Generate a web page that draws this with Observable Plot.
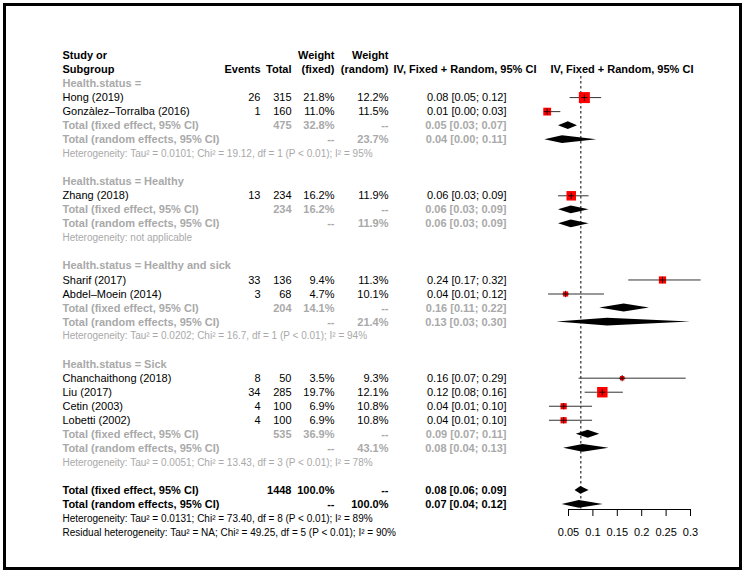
<!DOCTYPE html>
<html><head><meta charset="utf-8">
<script src="https://cdn.jsdelivr.net/npm/d3@7"></script>
<script src="https://cdn.jsdelivr.net/npm/@observablehq/plot@0.6"></script>
<style>
body{margin:0;background:#fff;}
#wrap{position:relative;width:747px;height:573px;background:#fff;}
#border{position:absolute;left:3px;top:3px;width:739px;height:567px;box-sizing:border-box;border:3px solid #000;pointer-events:none;}
</style></head><body>
<div id="wrap"><div id="chart"></div><div id="border"></div></div>
<script>
// ---- data ----
const groupNames = ["", "Healthy", "Healthy and sick", "Sick"];
const studies = ["Hong (2019)", "Gonzàlez–Torralba (2016)", "Zhang (2018)", "Sharif (2017)", "Abdel–Moein (2014)", "Chanchaithong (2018)", "Liu (2017)", "Cetin (2003)", "Lobetti (2002)"];
const studyGroup = [0, 0, 1, 2, 2, 3, 3, 3, 3];
const events = [26, 1, 13, 33, 3, 8, 34, 4, 4];
const totals = [315, 160, 234, 136, 68, 50, 285, 100, 100];
const weightFixed = [21.8, 11.0, 16.2, 9.4, 4.7, 3.5, 19.7, 6.9, 6.9];
const weightRandom = [12.2, 11.5, 11.9, 11.3, 10.1, 9.3, 12.1, 10.8, 10.8];
const studyEst = [0.0825, 0.0063, 0.0556, 0.2426, 0.0441, 0.16, 0.1193, 0.04, 0.04];
const studyLo = [0.0533, 0.0002, 0.0296, 0.1735, 0.0092, 0.0717, 0.0841, 0.011, 0.011];
const studyHi = [0.1179, 0.0343, 0.0921, 0.3218, 0.1237, 0.2911, 0.1624, 0.0993, 0.0993];

const groupTotals = [475, 234, 204, 535];
const groupWFixed = [32.8, 16.2, 14.1, 36.9];
const groupWRandom = [23.7, 11.9, 21.4, 43.1];
const groupFixedEst = [0.0496, 0.0556, 0.1640, 0.0903];
const groupFixedLo = [0.0296, 0.0296, 0.1140, 0.0660];
const groupFixedHi = [0.0684, 0.0921, 0.2158, 0.1140];
const groupRandEst = [0.0377, 0.0556, 0.1300, 0.0800];
const groupRandLo = [0.0015, 0.0296, 0.0260, 0.0400];
const groupRandHi = [0.1080, 0.0921, 0.3000, 0.1330];
const groupHet = [
  "Heterogeneity: Tau² = 0.0101; Chi² = 19.12, df = 1 (P < 0.01); I² = 95%",
  "Heterogeneity: not applicable",
  "Heterogeneity: Tau² = 0.0202; Chi² = 16.7, df = 1 (P < 0.01); I² = 94%",
  "Heterogeneity: Tau² = 0.0051; Chi² = 13.43, df = 3 (P < 0.01); I² = 78%"
];

const overallTotal = 1448;
const overallFixed = [0.0753, 0.0634, 0.0921];
const overallRandom = [0.0722, 0.0370, 0.1210];
const overallHet = [
  "Heterogeneity: Tau² = 0.0131; Chi² = 73.40, df = 8 (P < 0.01); I² = 89%",
  "Residual heterogeneity: Tau² = NA; Chi² = 49.25, df = 5 (P < 0.01); I² = 90%"
];
const xTicks = [0.05, 0.1, 0.15, 0.2, 0.25, 0.3];
const ciHeader = "IV, Fixed + Random, 95% CI";

// ---- layout ----
const W = 747, H = 573;
const mL = 568, mR = 57, mT = 76, mB = 64;
const GRAY = "#a9a9a9", BLACK = "#000";
const colX = {study: 62, events: 260, total: 291, wfix: 334, wran: 388, ci: 506, ciHead: 393, plotHead: 550};
const colAnchor = {study: "start", events: "end", total: "end", wfix: "end", wran: "end", ci: "end", ciHead: "start", plotHead: "start"};

const f2 = d3.format(".2f");
const ci = (e, l, u) => `${f2(e)} [${f2(l)}; ${f2(u)}]`;
const pct = v => v.toFixed(1) + "%";

const cells = [];
const add = (row, col, text, color = BLACK, bold = false, size = 11) => cells.push({row, col, text: String(text), color, bold, size});

add(0, "study", "Study or", BLACK, true);
add(0, "wfix", "Weight", BLACK, true);
add(0, "wran", "Weight", BLACK, true);
add(1, "study", "Subgroup", BLACK, true);
add(1, "events", "Events", BLACK, true);
add(1, "total", "Total", BLACK, true);
add(1, "wfix", "(fixed)", BLACK, true);
add(1, "wran", "(random)", BLACK, true);
add(1, "ciHead", ciHeader, BLACK, true);
add(1, "plotHead", ciHeader, BLACK, true);

const studyData = [];
const diamonds = [];
const pushDiamond = (id, row, e, l, u) => {
  const h = 0.28;
  diamonds.push({id, y: row - h, x1: e, x2: e});
  diamonds.push({id, y: row, x1: l, x2: u});
  diamonds.push({id, y: row + h, x1: e, x2: e});
};

let r = 2;
groupNames.forEach((g, gi) => {
  add(r++, "study", "Health.status = " + g, GRAY, true);
  studies.forEach((s, i) => {
    if (studyGroup[i] !== gi) return;
    add(r, "study", s);
    add(r, "events", events[i]);
    add(r, "total", totals[i]);
    add(r, "wfix", pct(weightFixed[i]));
    add(r, "wran", pct(weightRandom[i]));
    add(r, "ci", ci(studyEst[i], studyLo[i], studyHi[i]));
    studyData.push({row: r, est: studyEst[i], lo: studyLo[i], hi: studyHi[i], w: weightFixed[i]});
    r++;
  });
  add(r, "study", "Total (fixed effect, 95% CI)", GRAY, true);
  add(r, "total", groupTotals[gi], GRAY, true);
  add(r, "wfix", pct(groupWFixed[gi]), GRAY, true);
  add(r, "wran", "--", GRAY, true);
  add(r, "ci", ci(groupFixedEst[gi], groupFixedLo[gi], groupFixedHi[gi]), GRAY, true);
  pushDiamond("gf" + gi, r, groupFixedEst[gi], groupFixedLo[gi], groupFixedHi[gi]);
  r++;
  add(r, "study", "Total (random effects, 95% CI)", GRAY, true);
  add(r, "wfix", "--", GRAY, true);
  add(r, "wran", pct(groupWRandom[gi]), GRAY, true);
  add(r, "ci", ci(groupRandEst[gi], groupRandLo[gi], groupRandHi[gi]), GRAY, true);
  pushDiamond("gr" + gi, r, groupRandEst[gi], groupRandLo[gi], groupRandHi[gi]);
  r++;
  add(r++, "study", groupHet[gi], GRAY, false, 10);
  r++;
});
add(r, "study", "Total (fixed effect, 95% CI)", BLACK, true);
add(r, "total", overallTotal, BLACK, true);
add(r, "wfix", "100.0%", BLACK, true);
add(r, "wran", "--", BLACK, true);
add(r, "ci", ci(...overallFixed), BLACK, true);
pushDiamond("of", r, ...overallFixed);
r++;
add(r, "study", "Total (random effects, 95% CI)", BLACK, true);
add(r, "wfix", "--", BLACK, true);
add(r, "wran", "100.0%", BLACK, true);
add(r, "ci", ci(...overallRandom), BLACK, true);
pushDiamond("or", r, ...overallRandom);
r++;
add(r++, "study", overallHet[0], BLACK, false, 10);
add(r++, "study", overallHet[1], BLACK, false, 10);
const lastRow = r - 1;

const textMarks = d3.groups(cells, d => `${d.col}|${d.bold}|${d.size}`).map(([key, arr]) => {
  const c = arr[0];
  return Plot.text(arr, {
    y: "row", text: "text", fill: "color",
    frameAnchor: "left", dx: colX[c.col] - mL, textAnchor: colAnchor[c.col],
    fontWeight: c.bold ? "bold" : "normal", fontSize: c.size
  });
});

const chart = Plot.plot({
  width: W, height: H,
  marginLeft: mL, marginRight: mR, marginTop: mT, marginBottom: mB,
  style: {fontFamily: "'Liberation Sans', Arial, Helvetica, sans-serif", fontSize: "11px", background: "transparent", color: "black"},
  x: {domain: [0.05, 0.3], ticks: xTicks, tickFormat: d => String(d), tickSize: 7, tickPadding: 12, label: null, line: true},
  y: {domain: [0, lastRow], range: [55, 532], axis: null},
  r: {type: "sqrt", domain: [0, 25], range: [0, 6.65]},
  color: {type: "identity"},
  marks: [
    ...textMarks,
    Plot.ruleX([overallFixed[0]], {stroke: "black", strokeWidth: 1, strokeDasharray: "2.5,2.5"}),
    Plot.ruleY(studyData, {y: "row", x1: "lo", x2: "hi", stroke: "#333", strokeWidth: 1}),
    Plot.dot(studyData, {x: "est", y: "row", r: "w", symbol: "square", fill: "#f00", stroke: "none"}),
    Plot.dot(studyData, {x: "est", y: "row", r: 2.2, symbol: "plus", stroke: "black", strokeWidth: 0.8}),
    Plot.areaX(diamonds, {y: "y", x1: "x1", x2: "x2", z: "id", fill: "black", curve: "linear"})
  ]
});
document.getElementById("chart").appendChild(chart);
</script>
</body></html>
